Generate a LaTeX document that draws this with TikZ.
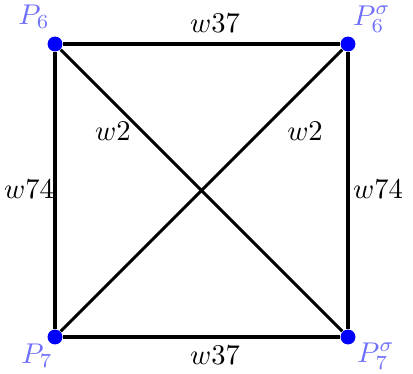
\documentclass[tikz,border=0pt]{standalone}
\begin{document}
\begin{tikzpicture}[x=0.35pt,y=-0.35pt,
  vtx/.style={circle,fill=blue,inner sep=0pt,minimum size=5.2pt},
  plab/.style={text=plabc,inner sep=0pt},
  wlab/.style={inner sep=0pt},
  side/.style={line width=1.6pt},
  diag/.style={line width=1pt}]
\definecolor{plabc}{RGB}{110,110,250}
\useasboundingbox (0,0) rectangle (413,374);
\node[vtx] (a) at (55,44) {};
\node[vtx] (b) at (348,44) {};
\node[vtx] (c) at (55,337) {};
\node[vtx] (d) at (348,337) {};
\draw[side] (a) -- (b);
\draw[side] (b) -- (d);
\draw[side] (d) -- (c);
\draw[side] (c) -- (a);
\draw[diag] (a) -- (d);
\draw[diag] (c) -- (b);
\node[plab] (la) at (34,17) {$P_6$};
\node[plab] (lb) at (372,19) {$P_6^\sigma$};
\node[plab] (lc) at (37,356) {$P_7$};
\node[plab] (ld) at (376,356) {$P_7^\sigma$};
\node[wlab] (t) at (215,23) {$w37$};
\node[wlab] (bo) at (215,355) {$w37$};
\node[wlab] (l) at (29,189) {$w74$};
\node[wlab] (r) at (378,189) {$w74$};
\node[wlab] (dl) at (113,131) {$w2$};
\node[wlab] (dr) at (305,131) {$w2$};
\end{tikzpicture}
\end{document}
